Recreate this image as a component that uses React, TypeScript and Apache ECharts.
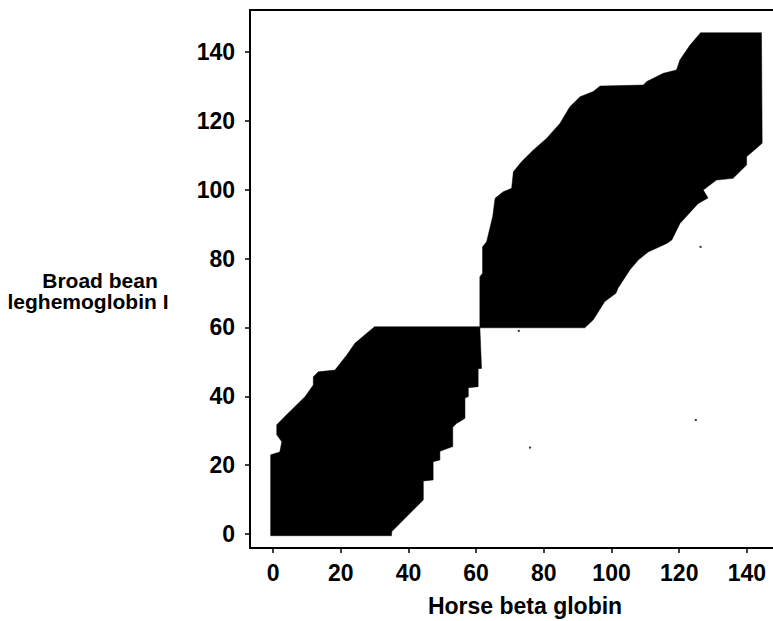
import React, { useEffect, useRef } from "react";
import * as echarts from "echarts";

// Tick values
const xTicks = [0, 20, 40, 60, 80, 100, 120, 140];
const yTicks = [0, 20, 40, 60, 80, 100, 120, 140];

// Outline of the lower aligned region (Horse beta globin residue, Broad bean residue)
const lowerBlobX = [
  -0.7, -0.7, 2, 2.6, 1.1, 1.1, 4, 9.5, 11.9, 11.9, 13.4, 18.3, 21.8, 24.2, 27.7, 30,
  61.1, 61.6, 60.6, 60.6, 57.7, 57.7, 56.7, 56.7, 55.7, 54.2, 53.1, 53.1, 49.3, 49.3,
  47.3, 47.3, 44.4, 44.4, 35.1, 35,
];
const lowerBlobY = [
  -0.5, 23, 23.8, 26.8, 28.8, 31.7, 34.6, 39.9, 43.3, 45.7, 47.1, 47.6, 52, 55.4, 58.3, 60.2,
  60.2, 48.1, 48, 42.8, 42.5, 39.9, 39.5, 33.6, 33, 32.1, 31, 25.4, 24, 21.5,
  21, 15.7, 15.4, 9.9, 0.7, -0.5,
];

// Outline of the upper aligned region
const upperBlobX = [
  61.1, 61.1, 61.9, 61.9, 63.1, 64.9, 65.6, 68, 70.5, 71, 73.4, 76.9, 80.8, 84.8, 87.7,
  90.7, 94.6, 96.6, 109.4, 110.4, 115.3, 119.2, 120.2, 123.2, 126.3, 144.3,
  144.5, 139.9, 139.9, 135.9, 131, 127.1, 128.5, 125.6, 120.2, 117.8, 116.3, 110.8,
  107.9, 105.4, 101.9, 101.3, 98, 94.6, 92.1,
];
const upperBlobY = [
  59.9, 74.7, 75.7, 83.4, 84.9, 92.2, 97.5, 99.4, 100.4, 105.2, 108.1, 111.5, 114.9, 119.3, 124.1,
  127, 128.5, 130.1, 130.4, 131.4, 133.8, 134.8, 137.7, 142, 145.6, 145.6,
  113.5, 109.6, 107.2, 103.3, 102.8, 99.9, 97.6, 96, 90.2, 85.4, 84.4, 81.9,
  79.6, 76.7, 71.4, 69.9, 67.5, 62.2, 59.9,
];

// Isolated single matches
const speckX = [72.6, 75.9, 124.9, 126.3];
const speckY = [59, 25.1, 33.1, 83.4];

const FONT = "'Liberation Sans', Arial, Helvetica, sans-serif";

function blobSeries(xs: number[], ys: number[]) {
  const pts = xs.map((x, i) => [x, ys[i]]);
  return {
    type: "custom",
    coordinateSystem: "cartesian2d",
    xAxisIndex: 0,
    yAxisIndex: 0,
    silent: true,
    clip: true,
    data: pts,
    encode: { x: 0, y: 1 },
    renderItem: (params: any, api: any) => {
      if (params.dataIndex !== 0) return null;
      const points = pts.map((p) => api.coord(p));
      return {
        type: "polygon",
        shape: { points },
        style: { fill: "#000", stroke: "#000", lineWidth: 0.5 },
      };
    },
  };
}

export default function App() {
  const ref = useRef<HTMLDivElement>(null);

  useEffect(() => {
    if (!ref.current) return;
    const chart = echarts.init(ref.current, undefined, { renderer: "svg" });
    const axisText = { color: "#000", fontSize: 23, fontWeight: "bold" as const, fontFamily: FONT };
    chart.setOption({
      animation: false,
      backgroundColor: "#fff",
      grid: { left: 250, top: 10, width: 523, height: 538 },
      xAxis: [
        {
          type: "value",
          position: "bottom",
          min: -6.8,
          max: 147.7,
          axisLine: { show: true, onZero: false, lineStyle: { color: "#000", width: 2 } },
          axisTick: { show: true, length: 5, inside: false, customValues: xTicks, lineStyle: { color: "#000", width: 1.5 } },
          axisLabel: { ...axisText, margin: 13, customValues: xTicks },
          splitLine: { show: false },
        },
        {
          type: "value",
          position: "top",
          min: -6.8,
          max: 147.7,
          axisLine: { show: true, onZero: false, lineStyle: { color: "#000", width: 2 } },
          axisTick: { show: false },
          axisLabel: { show: false },
          splitLine: { show: false },
        },
      ],
      yAxis: {
        type: "value",
        position: "left",
        min: -4.07,
        max: 152.2,
        axisLine: { show: true, onZero: false, lineStyle: { color: "#000", width: 2 } },
        axisTick: { show: true, length: 5, inside: false, customValues: yTicks, lineStyle: { color: "#000", width: 1.5 } },
        axisLabel: { ...axisText, margin: 15, customValues: yTicks },
        splitLine: { show: false },
      },
      graphic: [
        {
          type: "text",
          x: 525,
          y: 606,
          style: {
            text: "Horse beta globin",
            fill: "#000",
            font: `bold 23px ${FONT}`,
            textAlign: "center",
            textVerticalAlign: "middle",
          },
        },
        {
          type: "text",
          x: 100,
          y: 280,
          style: {
            text: "Broad bean",
            fill: "#000",
            font: `bold 21px ${FONT}`,
            textAlign: "center",
            textVerticalAlign: "middle",
          },
        },
        {
          type: "text",
          x: 88,
          y: 301.5,
          style: {
            text: "leghemoglobin I",
            fill: "#000",
            font: `bold 21px ${FONT}`,
            textAlign: "center",
            textVerticalAlign: "middle",
          },
        },
      ],
      series: [
        blobSeries(lowerBlobX, lowerBlobY),
        blobSeries(upperBlobX, upperBlobY),
        {
          type: "scatter",
          silent: true,
          data: speckX.map((x, i) => [x, speckY[i]]),
          symbol: "rect",
          symbolSize: 2,
          itemStyle: { color: "#000" },
        },
      ],
    });
    return () => chart.dispose();
  }, []);

  return (
    <div
      ref={ref}
      style={{ position: "fixed", left: 0, top: 0, width: 773, height: 621, background: "#fff" }}
    />
  );
}
